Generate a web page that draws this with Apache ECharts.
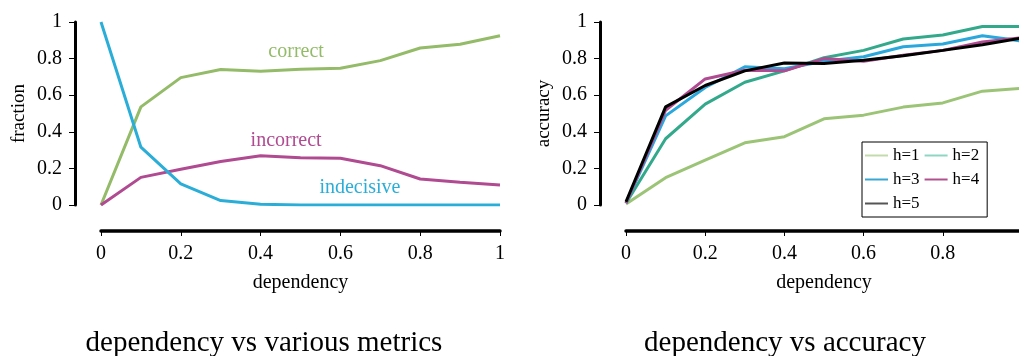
<!DOCTYPE html>
<html>
<head>
<meta charset="utf-8">
<script src="https://cdn.jsdelivr.net/npm/echarts@6/dist/echarts.min.js"></script>
<style>
  html, body { margin: 0; padding: 0; background: #fff; overflow: hidden; }
  #chart { width: 1019px; height: 356px; }
</style>
</head>
<body>
<div id="chart"></div>
<script>
// x values (dependency)
var dependency = [0, 0.1, 0.2, 0.3, 0.4, 0.5, 0.6, 0.7, 0.8, 0.9, 1];

// left panel: fraction of answers
var correct    = [0, 0.536, 0.696, 0.74, 0.731, 0.742, 0.747, 0.789, 0.858, 0.878, 0.925];
var incorrect  = [0, 0.151, 0.195, 0.238, 0.269, 0.258, 0.255, 0.215, 0.142, 0.124, 0.109];
var indecisive = [1, 0.316, 0.115, 0.024, 0.004, 0, 0, 0, 0, 0, 0];

// right panel: accuracy per h
var h1 = [0.005, 0.149, 0.245, 0.34, 0.373, 0.471, 0.491, 0.535, 0.558, 0.622, 0.638];
var h2 = [0.01, 0.362, 0.551, 0.671, 0.733, 0.805, 0.845, 0.907, 0.929, 0.975, 0.975];
var h3 = [0.01, 0.487, 0.642, 0.755, 0.745, 0.785, 0.81, 0.865, 0.88, 0.925, 0.896];
var h4 = [0.01, 0.518, 0.689, 0.736, 0.733, 0.8, 0.785, 0.818, 0.845, 0.891, 0.915];
var h5 = [0.018, 0.536, 0.653, 0.733, 0.776, 0.773, 0.791, 0.815, 0.845, 0.876, 0.913];

var FONT = "'Liberation Serif', 'DejaVu Serif', serif";

function pairs(ys) {
  var out = [];
  for (var i = 0; i < dependency.length; i++) out.push([dependency[i], ys[i]]);
  return out;
}

function xAxisOf(grid, hideMax) {
  return {
    type: "value", gridIndex: grid, min: 0, max: 1, interval: 0.2,
    offset: 26,
    name: "dependency", nameLocation: "middle", nameGap: 42,
    nameTextStyle: { fontFamily: FONT, fontSize: 20, color: "#000" },
    axisLine: { show: true, onZero: false, lineStyle: { color: "#000", width: 3.5 } },
    axisTick: { show: true, length: 5, lineStyle: { color: "#000", width: 1 } },
    axisLabel: { fontFamily: FONT, fontSize: 20, color: "#000", margin: 13, showMaxLabel: !hideMax },
    splitLine: { show: false }
  };
}

function yAxisOf(grid, name) {
  return {
    type: "value", gridIndex: grid, min: 0, max: 1, interval: 0.2,
    offset: 26,
    name: name, nameLocation: "middle", nameGap: 46,
    nameTextStyle: { fontFamily: FONT, fontSize: 19, color: "#000" },
    axisLine: { show: true, onZero: false, lineStyle: { color: "#000", width: 3 } },
    axisTick: { show: true, length: 6, lineStyle: { color: "#000", width: 1 } },
    axisLabel: { fontFamily: FONT, fontSize: 20, color: "#000", margin: 13 },
    splitLine: { show: false }
  };
}

function line(name, ys, color, grid, tag) {
  var s = {
    name: name, type: "line", xAxisIndex: grid, yAxisIndex: grid,
    data: pairs(ys), symbol: "none", smooth: false,
    lineStyle: { color: color, width: 3 }, itemStyle: { color: color },
    emphasis: { disabled: true }
  };
  if (tag) {
    s.markPoint = {
      symbol: "circle", symbolSize: 1, itemStyle: { color: "rgba(0,0,0,0)" },
      label: { show: true, position: "inside", formatter: name, fontFamily: FONT, fontSize: 20, color: color },
      data: [{ coord: tag }]
    };
  }
  return s;
}

var chart = echarts.init(document.getElementById("chart"));
chart.setOption({
  animation: false,
  title: [
    { text: "dependency vs various metrics", left: 259, top: 324, textAlign: "center",
      textStyle: { fontFamily: FONT, fontSize: 29, fontWeight: "normal", color: "#000" } },
    { text: "dependency vs accuracy", left: 780, top: 324, textAlign: "center",
      textStyle: { fontFamily: FONT, fontSize: 29, fontWeight: "normal", color: "#000" } }
  ],
  grid: [
    { left: 101, top: 22, width: 399, height: 183, outerBoundsMode: "none" },
    { left: 626, top: 22, width: 396, height: 183, outerBoundsMode: "none" }
  ],
  legend: {
    left: 862, top: 142, width: 118,
    orient: "horizontal",
    padding: [4, 8, 4, 3],
    borderColor: "#000", borderWidth: 1,
    itemWidth: 23, itemHeight: 2, itemGap: 5,
    icon: "rect",
    textStyle: { fontFamily: FONT, fontSize: 17, color: "#000", lineHeight: 19 },
    data: [
      { name: "h=1", itemStyle: { color: "#c3dbab" } },
      { name: "h=2", itemStyle: { color: "#8fd6c2" } },
      { name: "h=3", itemStyle: { color: "#3aa6d2" } },
      { name: "h=4", itemStyle: { color: "#b0508e" } },
      { name: "h=5", itemStyle: { color: "#555555" } }
    ]
  },
  xAxis: [xAxisOf(0, false), xAxisOf(1, true)],
  yAxis: [yAxisOf(0, "fraction"), yAxisOf(1, "accuracy")],
  series: [
    line("correct", correct, "#93bb68", 0, [0.489, 0.836]),
    line("incorrect", incorrect, "#b04a91", 0, [0.464, 0.35]),
    line("indecisive", indecisive, "#2aaed8", 0, [0.649, 0.093]),
    line("h=1", h1, "#9cc476", 1),
    line("h=2", h2, "#33a98c", 1),
    line("h=3", h3, "#2aa8dc", 1),
    line("h=4", h4, "#b04a91", 1),
    line("h=5", h5, "#000000", 1)
  ]
});
</script>
</body>
</html>
